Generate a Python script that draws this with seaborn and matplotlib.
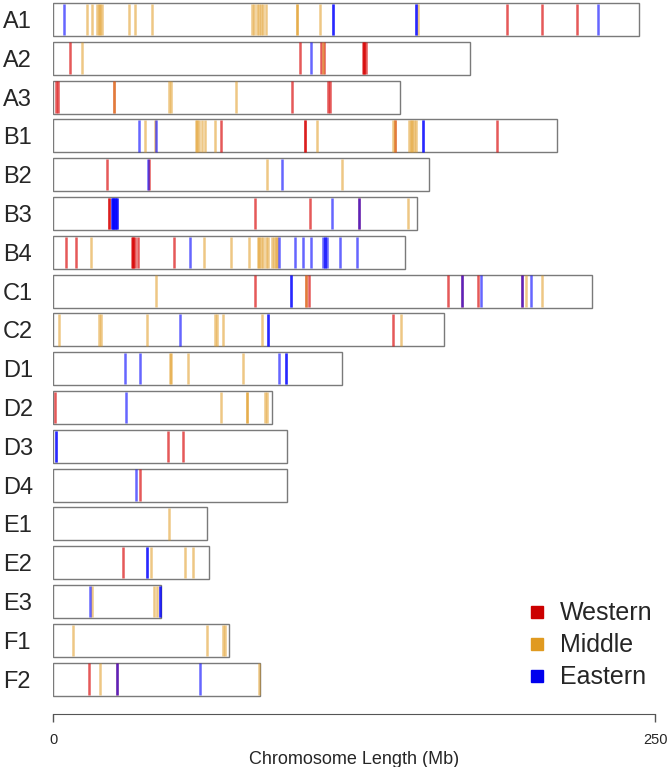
import matplotlib
matplotlib.use("Agg")
import matplotlib.pyplot as plt
from matplotlib.lines import Line2D
import seaborn as sns
import pandas as pd

# ---- data ----
chromosomes = ["A1", "A2", "A3", "B1", "B2", "B3", "B4", "C1", "C2",
               "D1", "D2", "D3", "D4", "E1", "E2", "E3", "F1", "F2"]
lengths_mb = [243.3, 173.2, 143.9, 209.2, 156.0, 151.0, 146.0, 223.9, 162.2,
              119.9, 90.8, 97.1, 97.1, 64.1, 64.9, 44.9, 73.1, 85.9]

western_chrom = (["A1"] * 3 + ["A2"] * 8 + ["A3"] * 6 + ["B1"] * 5 + ["B2"] * 2 +
                 ["B3"] * 5 + ["B4"] * 8 + ["C1"] * 7 + ["C2"] + ["D2"] +
                 ["D3"] * 2 + ["D4"] + ["E2"] + ["F2"] * 2)
western_pos = [188.6, 203.2, 217.5,
               7.1, 102.4, 111.3, 112.6, 128.6, 129.2, 129.2, 129.9,
               1.2, 2.1, 25.2, 99.2, 114.4, 115.2,
               69.6, 104.5, 104.5, 142.1, 184.4,
               22.5, 39.9,
               23.4, 23.4, 83.7, 106.6, 127.2,
               5.5, 9.7, 32.9, 33.4, 33.4, 34.0, 35.2, 50.3,
               83.7, 105.0, 106.3, 163.9, 169.8, 176.7, 194.8,
               141.4,
               0.7,
               47.9, 53.9,
               36.2,
               29.1,
               15.1, 26.6]

middle_chrom = (["A1"] * 20 + ["A2"] * 2 + ["A3"] * 4 + ["B1"] * 16 + ["B2"] * 2 +
                ["B3"] + ["B4"] * 14 + ["C1"] * 4 + ["C2"] * 9 + ["D1"] * 4 +
                ["D2"] * 5 + ["E1"] + ["E2"] * 3 + ["E3"] * 3 + ["F1"] * 4 + ["F2"] * 2)
middle_pos = [14.0, 16.1, 18.3, 19.0, 19.7, 20.4, 31.6, 33.9, 41.0,
              82.5, 83.6, 84.6, 85.5, 86.4, 87.3, 88.4, 101.3, 101.3, 110.7, 151.5,
              11.9, 112.0,
              25.2, 48.3, 49.0, 76.1,
              38.0, 42.2, 59.4, 60.0, 60.5, 61.7, 63.2, 67.4, 109.8, 141.1, 142.1,
              147.8, 148.5, 149.2, 149.9, 150.6,
              88.9, 119.9,
              147.3,
              15.9, 62.9, 73.9, 81.5, 85.0, 85.7, 86.5, 87.4, 88.4, 89.1, 90.9, 91.9, 92.6, 93.2,
              42.9, 105.0, 196.6, 203.0,
              2.3, 19.0, 19.9, 39.0, 67.2, 68.1, 70.4, 86.6, 144.4,
              48.4, 48.9, 55.9, 79.1,
              69.7, 80.4, 80.4, 88.2, 88.9,
              48.3,
              40.8, 54.8, 58.0,
              16.1, 41.9, 43.3,
              8.5, 64.1, 70.4, 71.3,
              19.7, 85.5]

eastern_chrom = (["A1"] * 6 + ["A2"] + ["B1"] * 4 + ["B2"] * 2 + ["B3"] * 12 +
                 ["B4"] * 11 + ["C1"] * 6 + ["C2"] * 3 + ["D1"] * 5 + ["D2"] +
                 ["D3"] * 2 + ["D4"] + ["E2"] * 2 + ["E3"] * 3 + ["F2"] * 2)
eastern_pos = [4.6, 116.4, 116.4, 150.6, 150.6, 226.4,
               107.0,
               35.7, 42.6, 153.5, 153.5,
               39.4, 95.1,
               24.4, 24.9, 25.4, 25.9, 26.4, 24.6, 25.1, 25.6, 26.1, 26.5, 115.7, 127.2,
               56.7, 94.0, 100.4, 103.9, 107.3, 112.2, 113.0, 113.0, 113.7, 119.2, 126.2,
               98.7, 98.7, 169.8, 177.6, 194.8, 198.5,
               52.9, 89.1, 89.1,
               29.8, 36.2, 93.9, 96.9, 96.9,
               30.5,
               1.4, 1.4,
               34.6,
               39.0, 39.0,
               15.3, 44.5, 44.5,
               26.6, 60.9]

populations = ["Western", "Middle", "Eastern"]
pop_colors = ["#D70000", "#E09A20", "#0000FF"]
pop_alphas = [0.65, 0.55, 0.6]

# ---- figure ----
sns.set_style("white")
plt.rcParams["font.family"] = ["Liberation Sans", "DejaVu Sans"]

W, H = 671, 767
fig = plt.figure(figsize=(W / 100, H / 100), dpi=100)
ax_left, ax_right = 53, 655
ax_top, ax_bottom = 0, 698.5
ax = fig.add_axes([ax_left / W, 1 - ax_bottom / H, (ax_right - ax_left) / W, (ax_bottom - ax_top) / H])

bar_h = 0.85
chrom_df = pd.DataFrame({"chrom": chromosomes, "length": lengths_mb})
sns.barplot(data=chrom_df, x="length", y="chrom", orient="h", color="white",
            edgecolor="#7a7a7a", linewidth=1.0, width=bar_h, ax=ax, saturation=1)

row_of = {c: i for i, c in enumerate(chromosomes)}
for chroms, pos, col, a in zip([western_chrom, middle_chrom, eastern_chrom],
                               [western_pos, middle_pos, eastern_pos],
                               pop_colors, pop_alphas):
    ys = [row_of[c] for c in chroms]
    ax.vlines(pos, [y - bar_h / 2 + 0.02 for y in ys], [y + bar_h / 2 - 0.02 for y in ys],
              colors=col, alpha=a, linewidth=1.8, zorder=3)

ax.set_xlim(0, 250)
ax.set_ylim(len(chromosomes) - 0.5, -0.5)
ax.set_ylabel("")
ax.set_xlabel("Chromosome Length (Mb)", fontsize=13, labelpad=3)

for s in ["top", "right", "left"]:
    ax.spines[s].set_visible(False)
ax.spines["bottom"].set_position(("outward", 11))
ax.spines["bottom"].set_bounds(0, 250)
ax.spines["bottom"].set_color("#555555")
ax.set_xticks([0, 250])
ax.set_xticklabels(["0", "250"], fontsize=10.5)
ax.tick_params(axis="x", direction="out", length=6, width=1, color="#555555", pad=8, bottom=True)
ax.tick_params(axis="y", length=0, pad=36, labelsize=17)
for lab in ax.get_yticklabels():
    lab.set_horizontalalignment("left")

handles = [Line2D([0], [0], marker="s", linestyle="", markersize=9,
                  markerfacecolor=c, markeredgecolor=c)
           for c in ["#CC0000", "#E09A20", "#0000EE"]]
fig.legend(handles, populations, loc="upper left", bbox_to_anchor=(502 / W, 1 - 579 / H),
           frameon=False, fontsize=18, handletextpad=0.4, labelspacing=0.32,
           handlelength=1.0)

fig.savefig("out.png", dpi=100)
